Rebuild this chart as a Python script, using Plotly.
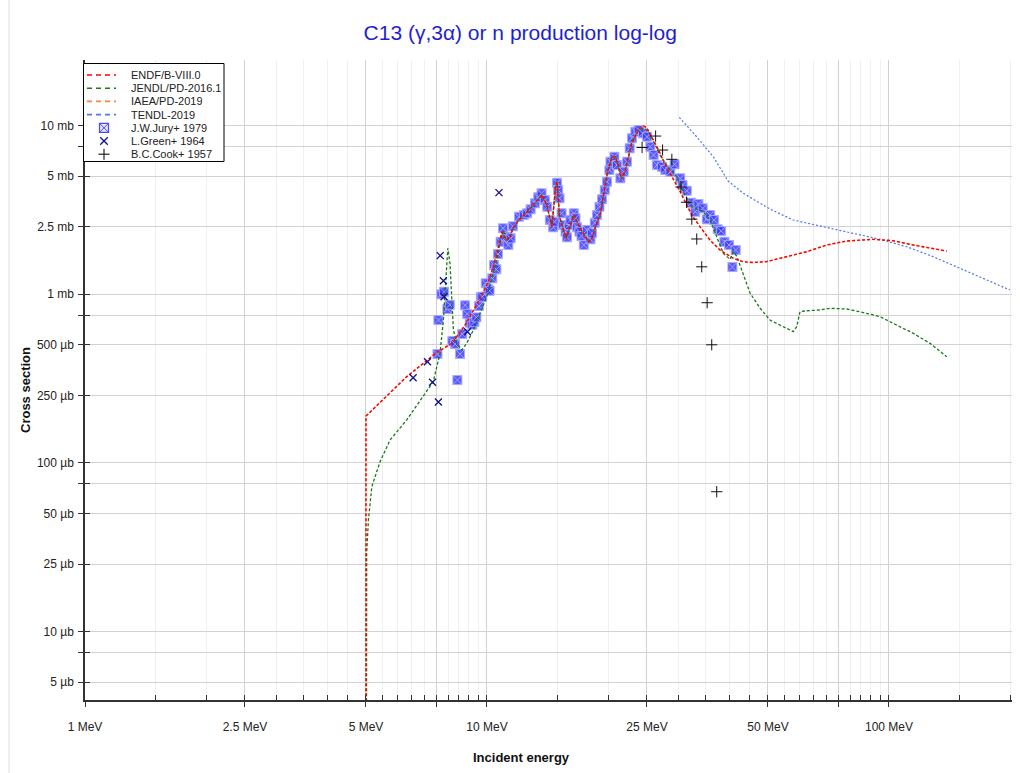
import math
import plotly.graph_objects as go

# ---------------- data (energies in MeV, cross sections in mb) ----------------
series_names = ["ENDF/B-VIII.0", "JENDL/PD-2016.1", "IAEA/PD-2019", "TENDL-2019",
                "J.W.Jury+ 1979", "L.Green+ 1964", "B.C.Cook+ 1957"]

endf_E = [5.0, 5.0, 6.30, 7.47, 8.19, 8.82, 9.66, 10.12, 10.53, 10.89,
          11.15, 11.40, 11.60, 12.01, 12.72, 13.16, 13.69, 14.09, 14.33, 14.50,
          14.81, 14.94, 15.15, 15.53, 15.73, 16.13, 16.44, 16.75, 17.24, 17.91,
          18.25, 18.61, 19.15, 19.71, 20.0, 20.46, 20.86, 21.26, 21.59, 22.09,
          22.94, 23.84, 24.53, 25.0, 25.72, 26.72, 27.76, 28.83, 29.95, 31.12,
          32.32, 33.88, 35.87, 37.98, 41.0, 43.41, 45.96, 49.63, 54.6, 62.4,
          69.98, 78.5, 91.4, 102.5, 114.9, 128.9, 139.2]
endf_mb = [1e-6, 0.189, 0.322, 0.447, 0.512, 0.655, 0.960, 1.21, 1.657, 2.331,
           2.09, 2.148, 2.462, 2.746, 3.147, 3.463, 3.863, 3.371, 2.746, 2.496,
           4.325, 4.631, 2.872, 2.395, 2.139, 2.564, 2.940, 2.683, 2.341, 2.042,
           2.139, 2.506, 3.009, 4.531, 5.433, 6.488, 6.515, 5.66, 4.806, 5.433,
           7.825, 9.508, 9.90, 9.638, 8.524, 7.139, 5.817, 4.959, 4.232, 3.525,
           2.940, 2.506, 2.09, 1.823, 1.628, 1.554, 1.537, 1.558, 1.651, 1.781,
           1.952, 2.062, 2.110, 2.070, 1.952, 1.866, 1.798]

# IAEA/PD-2019 coincides with ENDF/B-VIII.0 for this reaction
iaea_E = list(endf_E)
iaea_mb = list(endf_mb)

jendl_E = [5.0, 5.0, 5.02, 5.07, 5.17, 5.42, 5.74, 6.31, 6.94, 7.35,
           7.64, 7.79, 7.90, 7.99, 8.09, 8.17, 8.25, 8.41, 8.65, 8.90,
           9.25, 9.61, 9.98, 10.37, 10.57, 10.77, 10.98, 11.15, 11.40, 11.60,
           12.01, 12.72, 13.16, 13.69, 14.09, 14.33, 14.50, 14.81, 14.94, 15.15,
           15.53, 15.73, 16.13, 16.44, 16.75, 17.24, 17.91, 18.25, 18.61, 19.15,
           19.71, 20.0, 20.46, 20.86, 21.26, 21.59, 22.09, 22.94, 23.84, 24.4,
           25.2, 26.0, 27.0, 27.99, 29.07, 29.65, 30.78, 32.30, 34.52, 35.87,
           37.27, 38.71, 40.22, 41.0, 41.8, 43.41, 45.11, 47.77, 50.58, 54.6,
           57.8, 58.95, 60.05, 62.4, 67.35, 71.3, 78.5, 84.7, 95.0, 102.5,
           114.9, 126.5, 139.2]
jendl_mb = [1e-6, 0.01285, 0.02915, 0.0457, 0.0721, 0.1014, 0.1364, 0.179, 0.246, 0.302,
            0.445, 0.701, 1.21, 1.866, 1.52, 0.964, 0.612, 0.510, 0.466, 0.510,
            0.612, 0.768, 0.964, 1.327, 1.59, 1.998, 2.395, 2.09, 2.148, 2.462,
            2.746, 3.147, 3.463, 3.863, 3.371, 2.746, 2.496, 4.325, 4.631, 2.872,
            2.395, 2.139, 2.564, 2.940, 2.683, 2.341, 2.042, 2.139, 2.506, 3.009,
            4.531, 5.433, 6.488, 6.515, 5.66, 4.806, 5.433, 8.1, 9.4, 9.6,
            9.3, 8.0, 6.6, 5.817, 5.215, 4.959, 4.041, 3.293, 3.075, 2.746,
            2.186, 1.743, 1.606, 1.774, 1.68, 1.296, 1.014, 0.826, 0.701, 0.640,
            0.598, 0.640, 0.785, 0.796, 0.804, 0.823, 0.815, 0.785, 0.734, 0.670,
            0.585, 0.510, 0.425]

tendl_E = [30.09, 33.23, 36.55, 39.78, 43.41, 47.77, 50.58, 57.8, 68.66, 81.5,
           94.98, 110.7, 128.9, 150.2, 175.0, 200.0]
tendl_mb = [11.15, 8.558, 6.515, 4.676, 3.954, 3.449, 3.19, 2.746, 2.506, 2.290,
            2.110, 1.907, 1.664, 1.420, 1.21, 1.056]

jury_E = [7.53, 7.57, 7.70, 7.82, 7.97, 8.08, 8.20, 8.33, 8.44, 8.57,
          8.68, 8.82, 8.93, 9.06, 9.19, 9.30, 9.41, 9.55, 9.65, 9.73,
          9.93, 10.07, 10.15, 10.31, 10.41, 10.55, 10.65, 10.81, 10.96, 11.17,
          11.30, 11.45, 11.60, 12.01, 12.35, 12.59, 12.84, 13.16, 13.41, 13.67,
          13.93, 14.12, 14.33, 14.61, 14.72, 14.94, 15.03, 15.15, 15.33, 15.44,
          15.68, 15.82, 15.98, 16.13, 16.44, 16.60, 16.75, 16.98, 17.18, 17.41,
          17.74, 18.09, 18.25, 18.54, 18.78, 19.05, 19.33, 19.63, 19.89, 20.16,
          20.28, 20.75, 21.06, 21.47, 21.88, 22.30, 22.64, 22.94, 23.39, 23.84,
          24.43, 25.0, 25.49, 25.97, 26.47, 27.23, 27.76, 28.57, 29.28, 30.25,
          30.65, 31.41, 32.21, 32.96, 33.57, 34.41, 35.21, 35.90, 36.73, 37.50,
          38.23, 38.96, 40.02, 40.78, 41.56]
jury_mb = [0.441, 0.701, 0.996, 1.032, 0.815, 0.864, 0.526, 0.505, 0.309, 0.441,
           0.579, 0.857, 0.761, 0.676, 0.658, 0.682, 0.727, 0.849, 0.956, 0.964,
           1.157, 1.066, 1.046, 1.239, 1.485, 1.401, 1.726, 2.042, 2.452, 2.186,
           1.952, 2.139, 2.519, 2.872, 2.940, 3.009, 3.178, 3.449, 3.743, 3.954,
           3.608, 3.293, 2.746, 2.486, 2.683, 4.568, 4.136, 3.693, 3.009, 2.564,
           2.341, 2.168, 2.564, 2.746, 3.009, 2.810, 2.486, 2.341, 2.207, 1.952,
           2.395, 2.110, 2.290, 2.647, 2.940, 3.293, 3.643, 4.136, 4.631, 5.433,
           6.084, 6.515, 5.817, 4.852, 5.309, 6.084, 7.307, 8.375, 9.165, 9.38,
           8.967, 8.558, 7.467, 6.668, 5.817, 5.684, 5.433, 5.309, 5.872, 4.852,
           4.427, 4.097, 3.477, 3.075, 3.416, 3.221, 2.773, 2.940, 2.746, 2.418,
           2.363, 2.042, 1.952, 1.445, 1.823]

green_E = [6.55, 7.11, 7.32, 7.57, 7.65, 7.79, 7.82, 8.94, 10.71]
green_mb = [0.319, 0.397, 0.300, 0.229, 1.69, 1.20, 0.964, 0.598, 3.99]

cook_E = [24.31, 26.27, 27.34, 28.83, 30.38, 31.36, 32.32, 33.25, 34.21, 35.29, 36.23, 37.28]
cook_mb = [7.39, 8.64, 7.14, 6.29, 4.31, 3.50, 2.78, 2.12, 1.45, 0.888, 0.5, 0.0673]

# ticks
x_major = [1, 2.5, 5, 7.5, 10, 25, 50, 75, 100]
x_labels = ["1 MeV", "2.5 MeV", "5 MeV", "", "10 MeV", "25 MeV", "50 MeV", "", "100 MeV"]
x_minor = [1.5, 2, 3, 3.5, 4, 4.5, 5.5, 6, 6.5, 7, 8, 8.5, 9, 9.5,
           15, 20, 30, 35, 40, 45, 55, 60, 65, 70, 80, 85, 90, 95, 150, 200]
y_major = [10, 7.5, 5, 2.5, 1, 0.75, 0.5, 0.25, 0.1, 0.075, 0.05, 0.025, 0.01, 0.0075, 0.005]
y_labels = ["10 mb", "", "5 mb", "2.5 mb", "1 mb", "", "500 µb", "250 µb", "100 µb", "",
            "50 µb", "25 µb", "10 µb", "", "5 µb"]

# ---------------- styling ----------------
FONT = "Liberation Sans, Arial, sans-serif"
C_ENDF = "#ff0000"
C_JENDL = "#167a16"
C_IAEA = "#ff8040"
C_TENDL = "#4a78f0"
C_JURY = "rgba(55,55,255,0.82)"
C_GREEN = "#10108a"
C_COOK = "#111111"

X_RANGE = [0, 2.306]
Y_RANGE = [math.log10(0.00392), math.log10(24.4)]

fig = go.Figure()

fig.add_trace(go.Scatter(x=jury_E, y=jury_mb, mode="markers", name=series_names[4],
                         marker=dict(symbol="square-x", size=9, color=C_JURY,
                                     line=dict(color="rgba(170,170,255,0.9)", width=1))))
fig.add_trace(go.Scatter(x=iaea_E, y=iaea_mb, mode="lines", name=series_names[2],
                         line=dict(color=C_IAEA, width=1.3, dash="3px,2px")))
fig.add_trace(go.Scatter(x=tendl_E, y=tendl_mb, mode="lines", name=series_names[3],
                         line=dict(color=C_TENDL, width=1.2, dash="2px,2px")))
fig.add_trace(go.Scatter(x=jendl_E, y=jendl_mb, mode="lines", name=series_names[1],
                         line=dict(color=C_JENDL, width=1.3, dash="3px,2px")))
fig.add_trace(go.Scatter(x=endf_E, y=endf_mb, mode="lines", name=series_names[0],
                         line=dict(color=C_ENDF, width=1.4, dash="3px,2px")))
fig.add_trace(go.Scatter(x=green_E, y=green_mb, mode="markers", name=series_names[5],
                         marker=dict(symbol="x-thin", size=7, color=C_GREEN,
                                     line=dict(color=C_GREEN, width=1.3))))
fig.add_trace(go.Scatter(x=cook_E, y=cook_mb, mode="markers", name=series_names[6],
                         marker=dict(symbol="cross-thin", size=8, color=C_COOK,
                                     line=dict(color=C_COOK, width=1))))
# empty trace that activates the overlay axes used for the crossing tick marks
fig.add_trace(go.Scatter(x=[], y=[], xaxis="x2", yaxis="y2", showlegend=False,
                         hoverinfo="skip"))

axis_font = dict(family=FONT, size=12, color="#222222")
fig.update_layout(
    width=1020, height=773,
    margin=dict(l=85, r=8, t=60, b=73, autoexpand=False),
    paper_bgcolor="white", plot_bgcolor="white",
    showlegend=False,
    title=dict(text="C13 (γ,3α) or n production log-log", xref="container", x=0.51,
               yref="container", y=1 - 33 / 773, xanchor="center", yanchor="middle",
               font=dict(family=FONT, size=21, color="#1f1fd0")),
    xaxis=dict(type="log", range=X_RANGE, showline=True, linecolor="#333333", linewidth=1.5,
               tickmode="array", tickvals=x_major, ticktext=x_labels,
               ticks="outside", ticklen=5, tickcolor="#333333", tickwidth=1.2,
               showgrid=True, gridcolor="#d2d2d2", gridwidth=1, zeroline=False,
               tickfont=axis_font, ticklabelstandoff=10,
               minor=dict(tickvals=x_minor, ticks="inside", ticklen=5, tickcolor="#333333",
                          tickwidth=1, showgrid=True, gridcolor="#efefef", gridwidth=1)),
    yaxis=dict(type="log", range=Y_RANGE, showline=True, linecolor="#333333", linewidth=1.5,
               tickmode="array", tickvals=y_major, ticktext=y_labels,
               ticks="outside", ticklen=5, tickcolor="#333333", tickwidth=1.2,
               showgrid=True, gridcolor="#d2d2d2", gridwidth=1, zeroline=False,
               tickfont=axis_font, ticklabelstandoff=2),
    xaxis2=dict(type="log", range=X_RANGE, overlaying="x", anchor="y2", side="bottom",
                tickmode="array", tickvals=x_major, ticks="inside", ticklen=5,
                tickcolor="#333333", tickwidth=1.2, showticklabels=False,
                showgrid=False, zeroline=False, showline=False),
    yaxis2=dict(type="log", range=Y_RANGE, overlaying="y", anchor="x2", side="left",
                tickmode="array", tickvals=y_major, ticks="inside", ticklen=5,
                tickcolor="#333333", tickwidth=1.2, showticklabels=False,
                showgrid=False, zeroline=False, showline=False),
)

# page-pixel helpers for the hand-built legend and titles
PW, PH, PL, PB = 927.0, 640.0, 85.0, 700.0
def px(xp):
    return (xp - PL) / PW
def py(yp):
    return (PB - yp) / PH

annotations = [
    dict(text="<b>Incident energy</b>", x=px(521), y=py(757), xref="paper", yref="paper",
         showarrow=False, xanchor="center", yanchor="middle",
         font=dict(family=FONT, size=13, color="#111111")),
    dict(text="<b>Cross section</b>", x=px(25), y=py(390), xref="paper", yref="paper",
         showarrow=False, textangle=-90, xanchor="center", yanchor="middle",
         font=dict(family=FONT, size=13, color="#111111")),
]

shapes = [
    # faint page frame on the left
    dict(type="line", xref="paper", yref="paper", x0=px(9), x1=px(9), y0=py(773), y1=py(0),
         line=dict(color="#e0e0e0", width=1)),
    # legend box
    dict(type="rect", xref="paper", yref="paper", x0=px(83.5), x1=px(224), y0=py(161.5), y1=py(63.5),
         line=dict(color="#000000", width=1), fillcolor="white", layer="above"),
]

def seg(x0, y0, x1, y1, color, width, dash="solid"):
    return dict(type="line", xref="paper", yref="paper", x0=px(x0), x1=px(x1),
                y0=py(y0), y1=py(y1), layer="above",
                line=dict(color=color, width=width, dash=dash))

# legend rows
row_y = [75, 88.2, 101.4, 114.6, 127.8, 141, 154.2]
line_cols = [C_ENDF, C_JENDL, C_IAEA, C_TENDL]
for i, col in enumerate(line_cols):
    shapes.append(seg(87, row_y[i], 116, row_y[i], col, 1.6, "5px,4px"))

# legend symbol samples drawn as small line glyphs
cx = 104
# square with X (J.W.Jury)
r = 4.5
yj = row_y[4]
shapes.append(dict(type="rect", xref="paper", yref="paper", x0=px(cx - r), x1=px(cx + r),
                   y0=py(yj + r), y1=py(yj - r), layer="above",
                   fillcolor="rgba(90,90,255,0.15)", line=dict(color="#4a4aff", width=1.2)))
shapes.append(seg(cx - r, yj - r, cx + r, yj + r, "#4a4aff", 1))
shapes.append(seg(cx - r, yj + r, cx + r, yj - r, "#4a4aff", 1))
# x (L.Green)
r = 3.8
yg = row_y[5]
shapes.append(seg(cx - r, yg - r, cx + r, yg + r, C_GREEN, 1.3))
shapes.append(seg(cx - r, yg + r, cx + r, yg - r, C_GREEN, 1.3))
# + (B.C.Cook)
r = 5.5
yc = row_y[6]
shapes.append(seg(cx - r, yc, cx + r, yc, C_COOK, 1.1))
shapes.append(seg(cx, yc - r, cx, yc + r, C_COOK, 1.1))

for i, name in enumerate(series_names):
    annotations.append(dict(text=name, x=px(129), y=py(row_y[i]), xref="paper", yref="paper",
                            showarrow=False, xanchor="left", yanchor="middle", height=12,
                            font=dict(family=FONT, size=11, color="#222222")))

fig.update_layout(annotations=annotations, shapes=shapes)

fig.write_html("out.html", config={"displayModeBar": False},
               post_script="document.body.style.margin='0';document.body.style.overflow='hidden';")
